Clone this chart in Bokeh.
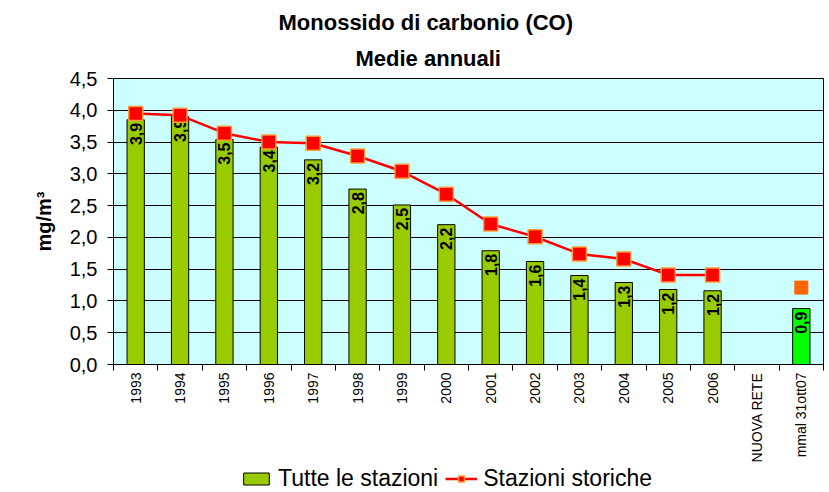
import math
import numpy as np
from bokeh.plotting import figure
from bokeh.layouts import column
from bokeh.models import (ColumnDataSource, FixedTicker, CustomJSTickFormatter, Title,
                          Legend, LegendItem, Range1d)
from bokeh.core.properties import value
from bokeh.embed import file_html
from bokeh.resources import INLINE

# ---- data ----
categories = ["1993", "1994", "1995", "1996", "1997", "1998", "1999", "2000",
              "2001", "2002", "2003", "2004", "2005", "2006", "NUOVA RETE", "mmal 31ott07"]
tutte_le_stazioni = [3.85, 3.90, 3.54, 3.42, 3.22, 2.76, 2.51, 2.20,
                     1.79, 1.62, 1.40, 1.29, 1.18, 1.16, None, 0.88]
stazioni_storiche = [3.95, 3.92, 3.64, 3.50, 3.48, 3.28, 3.04, 2.68,
                     2.21, 2.01, 1.74, 1.66, 1.41, 1.41, None, None]
nuova_rete_categoria = "mmal 31ott07"
nuova_rete_storiche = 1.21
y_ticks = [0.0, 0.5, 1.0, 1.5, 2.0, 2.5, 3.0, 3.5, 4.0, 4.5]

FONT = "Liberation Sans"

n = len(categories)
xc = np.arange(n) + 0.5
tutte = np.array([np.nan if v is None else v for v in tutte_le_stazioni], dtype=float)
stor = np.array([np.nan if v is None else v for v in stazioni_storiche], dtype=float)
bar_colors = ["#00FF00" if c == nuova_rete_categoria else "#99CC00" for c in categories]
labels = ["" if np.isnan(v) else f"{v:.1f}".replace(".", ",") for v in tutte]

bar_src = ColumnDataSource(dict(x=xc, top=tutte, color=bar_colors, label=labels))
line_src = ColumnDataSource(dict(x=xc, y=stor))
nr_idx = categories.index(nuova_rete_categoria)
nr_src = ColumnDataSource(dict(x=[xc[nr_idx]], y=[nuova_rete_storiche]))

p = figure(width=829, height=465, x_range=Range1d(0, n), y_range=Range1d(0, 4.5),
           output_backend="svg", toolbar_location=None,
           min_border_left=113, min_border_right=6, min_border_top=78, min_border_bottom=98,
           background_fill_color="#CCFFFF", border_fill_color="white",
           outline_line_color="black", outline_line_width=1)

# titles
t2 = Title(text="Medie annuali", align="left", offset=242, text_font=FONT,
           text_font_size="22px", text_font_style="bold", text_color="black", standoff=15)
p.add_layout(t2, "above")
t1 = Title(text="Monossido di carbonio (CO)", align="left", offset=165, text_font=FONT,
           text_font_size="22px", text_font_style="bold", text_color="black", standoff=3)
p.add_layout(t1, "above")

# grid
p.xgrid.visible = False
p.ygrid.ticker = FixedTicker(ticks=y_ticks)
p.ygrid.grid_line_color = "black"
p.ygrid.grid_line_width = 1

# y axis
p.yaxis.ticker = FixedTicker(ticks=y_ticks)
p.yaxis.formatter = CustomJSTickFormatter(code="return tick.toFixed(1).replace('.', ',');")
p.yaxis.major_label_text_font = FONT
p.yaxis.major_label_text_font_size = "20px"
p.yaxis.major_label_text_color = "black"
p.yaxis.major_tick_out = 6
p.yaxis.major_tick_in = 0
p.yaxis.minor_tick_out = 0
p.yaxis.minor_tick_in = 0
p.yaxis.major_label_standoff = 10
p.yaxis.axis_line_color = "black"
p.yaxis.major_tick_line_color = "black"
p.yaxis.axis_label = "mg/m³"
p.yaxis.axis_label_text_font = FONT
p.yaxis.axis_label_text_font_size = "20px"
p.yaxis.axis_label_text_font_style = "bold"
p.yaxis.axis_label_text_color = "black"
p.yaxis.axis_label_standoff = 12

# x axis
p.xaxis.ticker = FixedTicker(ticks=list(xc), minor_ticks=list(np.arange(n + 1)))
p.xaxis.formatter = CustomJSTickFormatter(args=dict(cats=categories),
                                          code="return cats[Math.floor(tick)];")
p.xaxis.major_label_orientation = math.pi / 2
p.xaxis.major_label_text_font = FONT
p.xaxis.major_label_text_font_size = "14px"
p.xaxis.major_label_text_color = "black"
p.xaxis.major_tick_out = 0
p.xaxis.major_tick_in = 0
p.xaxis.minor_tick_out = 6
p.xaxis.minor_tick_in = 0
p.xaxis.minor_tick_line_color = "black"
p.xaxis.major_label_standoff = 2
p.xaxis.axis_line_color = "black"

# bars
bar_style = dict(line_color="black", line_width=1)
p.vbar(x="x", top="top", width=0.39, bottom=0, source=bar_src,
       fill_color="color", **bar_style)
p.text(x="x", y="top", text="label", source=bar_src, angle=math.pi / 2,
       text_align="right", text_baseline="middle", y_offset=3,
       text_font=value(FONT), text_font_size="16px", text_font_style="bold",
       text_color="black")

# line
line_style = dict(line_color="#FF0000", line_width=2.5)
marker_style = dict(marker="square", size=14, fill_color="#FF0000",
                    line_color="#FF9933", line_width=1.5)
p.line(x="x", y="y", source=line_src, **line_style)
p.scatter(x="x", y="y", source=line_src, **marker_style)
p.scatter(x="x", y="y", source=nr_src, marker="square", size=13,
          fill_color="#FF6600", line_color="#FF6600")

# legend strip below the chart (its renderers fall outside its visible range)
lf = figure(width=829, height=27, x_range=Range1d(0, n), y_range=Range1d(100, 101),
            output_backend="svg", toolbar_location=None,
            min_border=0, outline_line_color=None, border_fill_color="white",
            background_fill_color="white")
lf.axis.visible = False
lf.grid.visible = False
lb = lf.vbar(x="x", top="top", width=0.39, bottom=0, source=bar_src,
             fill_color="#99CC00", **bar_style)
ll = lf.line(x="x", y="y", source=line_src, **line_style)
ls = lf.scatter(x="x", y="y", source=line_src, **marker_style)
legend = Legend(items=[LegendItem(label="Tutte le stazioni", renderers=[lb]),
                       LegendItem(label="Stazioni storiche", renderers=[ll, ls])],
                orientation="horizontal", location=(127, 0),
                label_text_font=FONT, label_text_font_size="23px", label_text_color="black",
                label_height=23, glyph_width=32, glyph_height=15, label_standoff=6, spacing=7,
                padding=0, margin=0, border_line_color=None, background_fill_alpha=0)
lf.add_layout(legend, "center")

layout = column(p, lf, spacing=0)
open("out.html", "w").write(file_html(layout, INLINE))
